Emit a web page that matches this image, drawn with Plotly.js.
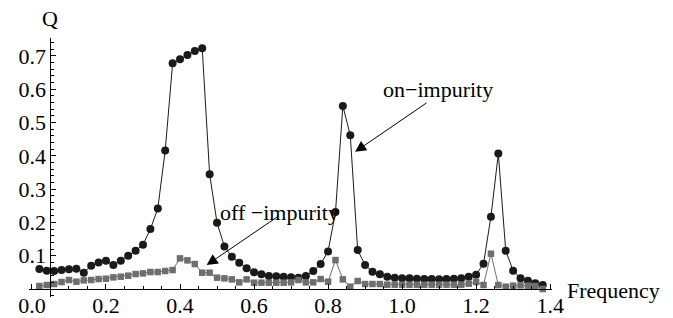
<!DOCTYPE html>
<html>
<head>
<meta charset="utf-8">
<script src="https://cdn.plot.ly/plotly-3.0.1.min.js"></script>
<style>html,body{margin:0;padding:0;background:#fff;}#chart{width:673px;height:318px;}</style>
</head>
<body>
<div id="chart"></div>
<script>
// Frequency values (shared by both series)
const frequency = [
  0.02,0.04,0.06,0.08,0.10,0.12,0.14,0.16,0.18,0.20,
  0.22,0.24,0.26,0.28,0.30,0.32,0.34,0.36,0.38,0.40,
  0.42,0.44,0.46,0.48,0.50,0.52,0.54,0.56,0.58,0.60,
  0.62,0.64,0.66,0.68,0.70,0.72,0.74,0.76,0.78,0.80,
  0.82,0.84,0.86,0.88,0.90,0.92,0.94,0.96,0.98,1.00,
  1.02,1.04,1.06,1.08,1.10,1.12,1.14,1.16,1.18,1.20,
  1.22,1.24,1.26,1.28,1.30,1.32,1.34,1.36,1.38
];
// Q on-impurity (black circles)
const qOnImpurity = [
  0.060,0.055,0.054,0.057,0.059,0.061,0.049,0.070,0.080,0.085,
  0.072,0.085,0.100,0.115,0.133,0.180,0.242,0.416,0.678,0.690,
  0.703,0.715,0.723,0.345,0.199,0.128,0.097,0.079,0.062,0.050,
  0.044,0.039,0.038,0.037,0.035,0.034,0.039,0.054,0.075,0.113,
  0.231,0.550,0.462,0.117,0.072,0.052,0.044,0.037,0.034,0.032,
  0.032,0.031,0.030,0.030,0.029,0.030,0.031,0.032,0.037,0.043,
  0.076,0.217,0.407,0.115,0.055,0.032,0.025,0.017,0.012
];
// Q off-impurity (gray squares)
const qOffImpurity = [
  0.009,0.012,0.015,0.021,0.027,0.022,0.026,0.027,0.030,0.031,
  0.035,0.037,0.040,0.045,0.047,0.051,0.051,0.054,0.057,0.092,
  0.086,0.075,0.049,0.049,0.034,0.032,0.029,0.020,0.029,0.019,
  0.019,0.019,0.019,0.019,0.020,0.027,0.020,0.020,0.030,0.022,
  0.087,0.029,0.007,0.024,0.015,0.015,0.015,0.013,0.013,0.013,
  0.013,0.013,0.013,0.013,0.013,0.013,0.013,0.013,0.016,0.021,
  0.012,0.106,0.012,0.007,0.010,0.011,0.010,0.009,0.000
];
const xTickVals = [0.0,0.2,0.4,0.6,0.8,1.0,1.2,1.4];
const xTickText = ["0.0","0.2","0.4","0.6","0.8","1.0","1.2","1.4"];
const yTickVals = [0.1,0.2,0.3,0.4,0.5,0.6,0.7];
const yTickText = ["0.1","0.2","0.3","0.4","0.5","0.6","0.7"];

const FONT = "'Liberation Serif', 'Times New Roman', Times, serif";
const FS = 22;
const xRange = [-0.008, 1.405];
const yRange = [-0.024, 0.754];

const traces = [
  {
    x: frequency, y: qOnImpurity, type: 'scatter', mode: 'lines+markers',
    line: {color: '#1a1a1a', width: 1},
    marker: {symbol: 'circle', size: 8, color: '#1a1a1a'},
    cliponaxis: false, hoverinfo: 'skip'
  },
  {
    x: frequency, y: qOffImpurity, type: 'scatter', mode: 'lines+markers',
    line: {color: '#6e6e6e', width: 1},
    marker: {symbol: 'square', size: 6.5, color: '#6e6e6e'},
    cliponaxis: false, hoverinfo: 'skip'
  }
];

const layout = {
  width: 673, height: 318,
  margin: {l: 29, r: 121, t: 38, b: 21, pad: 0},
  paper_bgcolor: '#fff', plot_bgcolor: '#fff',
  showlegend: false,
  font: {family: FONT, size: FS, color: '#000'},
  xaxis: {
    range: xRange, anchor: 'free', position: (0 - yRange[0]) / (yRange[1] - yRange[0]),
    showgrid: false, zeroline: false, showline: true, linecolor: '#000', linewidth: 1,
    tickmode: 'array', tickvals: xTickVals, ticktext: xTickText,
    ticks: 'inside', ticklen: 5, tickwidth: 1, tickcolor: '#000',
    ticklabelstandoff: -3,
    tickfont: {family: FONT, size: FS, color: '#000'},
    minor: {tickmode: 'linear', tick0: 0, dtick: 0.05, ticks: 'inside', ticklen: 3, tickwidth: 1, tickcolor: '#000', showgrid: false}
  },
  yaxis: {
    range: yRange, anchor: 'free', position: (0.05 - xRange[0]) / (xRange[1] - xRange[0]),
    showgrid: false, zeroline: false, showline: true, linecolor: '#000', linewidth: 1,
    tickmode: 'array', tickvals: yTickVals, ticktext: yTickText,
    ticks: 'inside', ticklen: 5, tickwidth: 1, tickcolor: '#000',
    tickfont: {family: FONT, size: FS, color: '#000'},
    minor: {tickmode: 'linear', tick0: 0, dtick: 0.02, ticks: 'inside', ticklen: 3, tickwidth: 1, tickcolor: '#000', showgrid: false}
  },
  annotations: [
    {x: 0.0411, y: 1.077, xref: 'paper', yref: 'paper', text: 'Q', showarrow: false, xanchor: 'center', yanchor: 'middle', font: {family: FONT, size: FS, color: '#000'}},
    {x: 1.0249, y: 0.0232, xref: 'paper', yref: 'paper', text: 'Frequency', showarrow: false, xanchor: 'left', yanchor: 'middle', font: {family: FONT, size: FS, color: '#000'}},
    {x: 1.097, y: 0.598, xref: 'x', yref: 'y', text: 'on\u2212impurity', showarrow: false, xanchor: 'center', yanchor: 'middle', font: {family: FONT, size: FS, color: '#000'}},
    {x: 0.67, y: 0.231, xref: 'x', yref: 'y', text: 'off \u2212impurity', showarrow: false, xanchor: 'center', yanchor: 'middle', font: {family: FONT, size: FS, color: '#000'}},
    {x: 0.873, y: 0.412, ax: 1.070, ay: 0.562, xref: 'x', yref: 'y', axref: 'x', ayref: 'y', text: '', showarrow: true, arrowhead: 2, arrowsize: 2.2, arrowwidth: 1, arrowcolor: '#000', standoff: 0, startstandoff: 0},
    {x: 0.472, y: 0.072, ax: 0.670, ay: 0.222, xref: 'x', yref: 'y', axref: 'x', ayref: 'y', text: '', showarrow: true, arrowhead: 2, arrowsize: 2.2, arrowwidth: 1, arrowcolor: '#000', standoff: 0, startstandoff: 0}
  ]
};

Plotly.newPlot('chart', traces, layout, {staticPlot: true, displayModeBar: false});
</script>
</body>
</html>
